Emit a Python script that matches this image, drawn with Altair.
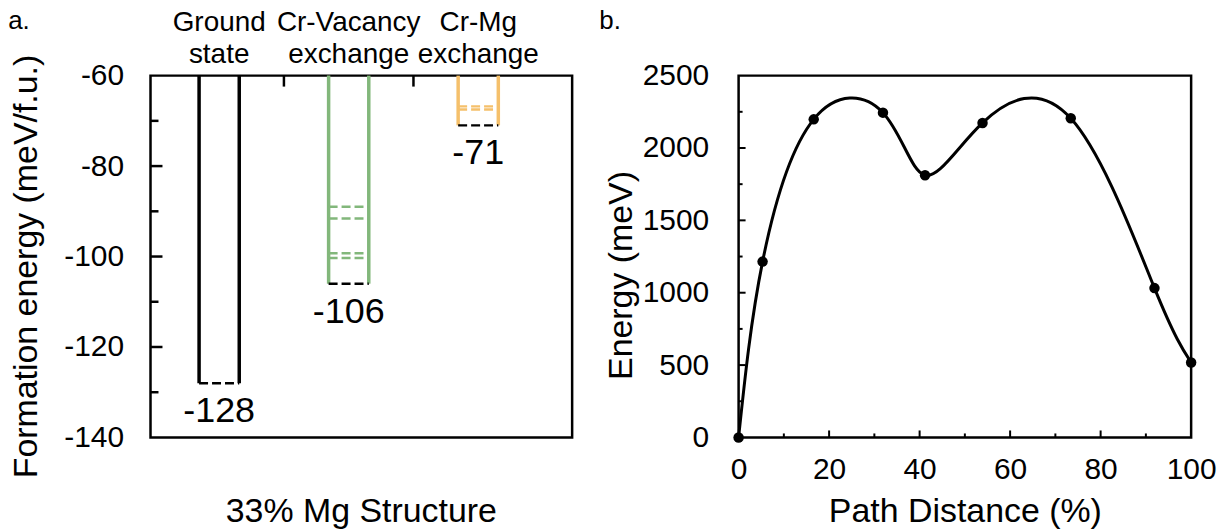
import altair as alt
import pandas as pd

# ---------------- data: panel a ----------------
categories = ["Ground state", "Cr-Vacancy exchange", "Cr-Mg exchange"]
cat_pos = [1, 2, 3]
final_energy = [-128, -106, -71]
intermediate = [[], [-89.0, -91.6, -99.3, -100.3], [-66.8, -67.5]]
y_labels_a = [-60, -80, -100, -120, -140]
y_major_a = [-80, -100, -120]
y_minor_a = [-70, -90, -110, -130]
x_top_ticks_a = [1.5, 2.5]

# ---------------- data: panel b ----------------
path = [0, 5.3, 16.6, 31.9, 41.2, 53.9, 73.4, 91.9, 100]
energy = [0, 1215, 2198, 2244, 1812, 2173, 2205, 1032, 518]
x_labels_b = [0, 20, 40, 60, 80, 100]
x_major_b = [20, 40, 60, 80]
x_minor_b = [10, 30, 50, 70, 90]
y_labels_b = [0, 500, 1000, 1500, 2000, 2500]
y_major_b = [500, 1000, 1500, 2000]
y_minor_b = [250, 750, 1250, 1750, 2250]

# ---------------- styles ----------------
cat_colors = ["#000000", "#82b77b", "#f5c06b"]
FONT = "Liberation Sans"
HW = 0.155
WA, WB, H = 423, 454, 363
TITLE = 34
LAB = 30

# ---------------- panel a tables ----------------
verts = []
dashes = []
finals = []
heads = []
for c, p, e, lv in zip(categories, cat_pos, final_energy, intermediate):
    for s in (-1, 1):
        verts.append({"cat": c, "x": p + s * HW, "y": y_labels_a[0], "y2": e})
    for l in lv:
        dashes.append({"cat": c, "x": p - HW, "x2": p + HW, "y": l})
    finals.append({"cat": c, "x": p - HW, "x2": p + HW, "y": e, "xc": p, "label": str(e)})
    w = c.split(" ")
    heads.append({"x": p, "l1": w[0], "l2": w[1]})
verts = pd.DataFrame(verts)
dashes = pd.DataFrame(dashes)
finals = pd.DataFrame(finals)
heads = pd.DataFrame(heads)

xs_a = alt.Scale(domain=[0.47, 3.725], nice=False, zero=False)
ys_a = alt.Scale(domain=[-140, -60], nice=False, zero=False)
ax_a_y = alt.Axis(values=y_labels_a, ticks=False, domain=False, grid=False,
                  labelFontSize=LAB, labelPadding=27, labelColor="black",
                  labelExpr="toString(datum.value)",
                  title="Formation energy (meV/f.u.)", titleFontSize=TITLE,
                  titleFontWeight="normal", titleAngle=270, titleX=-124, titleY=191,
                  titleAlign="center", titleBaseline="middle", titleColor="black")
ax_a_x = alt.Axis(labels=False, ticks=False, domain=False, grid=False,
                  title="33% Mg Structure", titleFontSize=TITLE, titleFontWeight="normal",
                  titleX=211, titleY=74, titleAlign="center", titleBaseline="middle",
                  titleColor="black")


def XA(f="x"):
    return alt.X(f + ":Q", scale=xs_a, axis=ax_a_x)


def YA(f="y"):
    return alt.Y(f + ":Q", scale=ys_a, axis=ax_a_y)


col = alt.Color("cat:N", scale=alt.Scale(domain=categories, range=cat_colors), legend=None)

v_layer = alt.Chart(verts).mark_rule(strokeWidth=3.5).encode(
    x=XA(), y=YA(), y2=alt.Y2("y2:Q"), color=col)
d_layer = alt.Chart(dashes).mark_rule(strokeWidth=2.5, strokeDash=[9, 4]).encode(
    x=XA(), x2=alt.X2("x2:Q"), y=YA(), color=col)
f_layer = alt.Chart(finals).mark_rule(strokeWidth=2.5, strokeDash=[9, 4], color="black").encode(
    x=XA(), x2=alt.X2("x2:Q"), y=YA())
lab_layer = alt.Chart(finals).mark_text(fontSize=36, dy=28, baseline="middle", align="center",
                                         color="black", font=FONT).encode(
    x=XA("xc"), y=YA(), text="label:N")
h1 = alt.Chart(heads).mark_text(fontSize=28, baseline="middle", align="center", color="black",
                                font=FONT).encode(x=XA(), y=alt.value(-53), text="l1:N")
h2 = alt.Chart(heads).mark_text(fontSize=28, baseline="middle", align="center", color="black",
                                font=FONT).encode(x=XA(), y=alt.value(-21), text="l2:N")

tmaj_a = alt.Chart(pd.DataFrame({"y": y_major_a})).mark_rule(strokeWidth=2.5, color="black").encode(
    y=YA(), x=alt.value(0), x2=alt.value(12))
tmin_a = alt.Chart(pd.DataFrame({"y": y_minor_a})).mark_rule(strokeWidth=2.5, color="black").encode(
    y=YA(), x=alt.value(0), x2=alt.value(8))
ttop_a = alt.Chart(pd.DataFrame({"x": x_top_ticks_a})).mark_rule(strokeWidth=2.5, color="black").encode(
    x=XA(), y=alt.value(0), y2=alt.value(11))
tag_a = alt.Chart(pd.DataFrame({"t": ["a."]})).mark_text(fontSize=26, color="black", font=FONT,
                                                         baseline="middle", align="center").encode(
    x=alt.value(-132), y=alt.value(-55), text="t:N")
anchor_a = alt.Chart(pd.DataFrame({"t": [0]})).mark_rule(strokeOpacity=0, strokeWidth=1).encode(
    x=alt.value(-149), x2=alt.value(-148), y=alt.value(-73))

panel_a = alt.layer(v_layer, d_layer, f_layer, lab_layer, h1, h2, tmaj_a, tmin_a, ttop_a,
                    tag_a, anchor_a).properties(width=WA, height=H)

# ---------------- panel b ----------------
xs_b = alt.Scale(domain=[0, 100], nice=False, zero=False)
ys_b = alt.Scale(domain=[0, 2500], nice=False, zero=False)
ax_b_x = alt.Axis(values=x_labels_b, ticks=False, domain=False, grid=False,
                  labelFontSize=LAB, labelPadding=32, labelBaseline="middle", labelColor="black",
                  labelFlush=False, labelOverlap=False, labelExpr="toString(datum.value)",
                  title="Path Distance (%)", titleFontSize=TITLE, titleFontWeight="normal",
                  titleX=WB / 2, titleY=74, titleAlign="center", titleBaseline="middle",
                  titleColor="black")
ax_b_y = alt.Axis(values=y_labels_b, ticks=False, domain=False, grid=False,
                  labelFontSize=LAB, labelPadding=30, labelColor="black", labelFlush=False,
                  labelOverlap=False, labelExpr="toString(datum.value)",
                  title="Energy (meV)", titleFontSize=TITLE, titleFontWeight="normal",
                  titleAngle=270, titleX=-117, titleY=200, titleAlign="center",
                  titleBaseline="middle", titleColor="black")


def XB(f="x"):
    return alt.X(f + ":Q", scale=xs_b, axis=ax_b_x)


def YB(f="y"):
    return alt.Y(f + ":Q", scale=ys_b, axis=ax_b_y)


neb = pd.DataFrame({"x": path, "y": energy})
line_b = alt.Chart(neb).mark_line(interpolate="natural", color="black", strokeWidth=3).encode(
    x=XB(), y=YB())
pts_b = alt.Chart(neb).mark_circle(size=110, color="black", opacity=1).encode(x=XB(), y=YB())

txmaj = alt.Chart(pd.DataFrame({"x": x_major_b})).mark_rule(strokeWidth=2, color="black").encode(
    x=XB(), y=alt.value(H), y2=alt.value(H - 7))
txmin = alt.Chart(pd.DataFrame({"x": x_minor_b})).mark_rule(strokeWidth=2, color="black").encode(
    x=XB(), y=alt.value(H), y2=alt.value(H - 4))
tymaj = alt.Chart(pd.DataFrame({"y": y_major_b})).mark_rule(strokeWidth=2, color="black").encode(
    y=YB(), x=alt.value(0), x2=alt.value(7))
tymin = alt.Chart(pd.DataFrame({"y": y_minor_b})).mark_rule(strokeWidth=2, color="black").encode(
    y=YB(), x=alt.value(0), x2=alt.value(4))
tag_b = alt.Chart(pd.DataFrame({"t": ["b."]})).mark_text(fontSize=26, color="black", font=FONT,
                                                         baseline="middle", align="center").encode(
    x=alt.value(-129), y=alt.value(-55), text="t:N")
anchor_b = alt.Chart(pd.DataFrame({"t": [0]})).mark_rule(strokeOpacity=0, strokeWidth=1).encode(
    x=alt.value(1230 - 739 - 1), x2=alt.value(1231 - 739), y=alt.value(H + 95))

panel_b = alt.layer(line_b, pts_b, txmaj, txmin, tymaj, tymin, tag_b, anchor_b).properties(
    width=WB, height=H)

chart = alt.hconcat(panel_a, panel_b, spacing=167, bounds="flush").properties(
    padding=0
).configure(font=FONT).configure_view(stroke="black", strokeWidth=2.5).configure_axis(
    labelFont=FONT, titleFont=FONT)

chart.save("out.html", embed_options={"renderer": "svg", "actions": False})
